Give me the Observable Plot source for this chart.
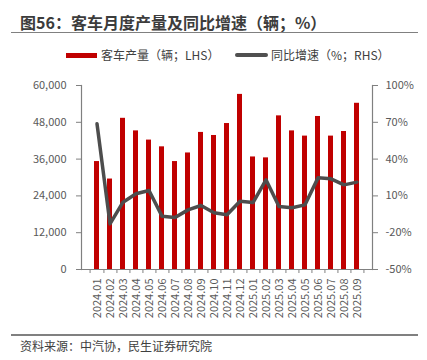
<!DOCTYPE html>
<html>
<head>
<meta charset="utf-8">
<script src="https://cdn.jsdelivr.net/npm/d3@7"></script>
<script src="https://cdn.jsdelivr.net/npm/@observablehq/plot@0.6"></script>
<style>
  html, body { margin: 0; padding: 0; background: #fff; }
  body { width: 427px; height: 360px; position: relative; overflow: hidden;
         font-family: "Noto Sans CJK SC", "Noto Sans", sans-serif; color: #404040; }
  .title { position: absolute; left: 20px; top: 11px; font-size: 16px; line-height: 22px; font-weight: bold; color: #3c3c3c; white-space: nowrap; }
  .rule { position: absolute; left: 11px; width: 407px; height: 1.5px; background: #808080; }
  .leg { position: absolute; font-size: 12px; line-height: 16px; top: 47px; color: #404040; white-space: nowrap; }
  .sw { position: absolute; }
  .caption { position: absolute; left: 20px; top: 337px; font-size: 12px; line-height: 17px; color: #404040; white-space: nowrap; }
  #chart { position: absolute; left: 0; top: 70px; }
</style>
</head>
<body>
<div class="title">图56：客车月度产量及同比增速（辆；%）</div>
<div class="rule" style="top:31.5px"></div>
<div class="sw" style="left:66px; top:52.5px; width:31px; height:5px; background:#C00000"></div>
<div class="leg" style="left:101px">客车产量（辆；LHS）</div>
<div class="sw" style="left:235px; top:53px; width:33px; height:4px; border-radius:2px; background:#505050"></div>
<div class="leg" style="left:271px">同比增速（%；RHS）</div>
<div id="chart"></div>
<div class="rule" style="top:334px"></div>
<div class="caption">资料来源：中汽协，民生证券研究院</div>
<script>
const months = ["2024.01","2024.02","2024.03","2024.04","2024.05","2024.06","2024.07","2024.08","2024.09","2024.10","2024.11","2024.12",
                "2025.01","2025.02","2025.03","2025.04","2025.05","2025.06","2025.07","2025.08","2025.09"];
const output = [35200, 29500, 49300, 45200, 42200, 40000, 35200, 38000, 44700, 43700, 47600, 57100,
                36700, 36400, 50100, 45200, 43500, 49900, 43500, 45000, 54200];
const yoy = [68.8, -12.8, 4.9, 11.7, 14.4, -6.5, -7.6, -1.4, 2.2, -3.8, -5.4, 5.7,
             4.6, 23.1, 1.4, 0.3, 2.7, 24.7, 23.9, 19.0, 21.2];
const leftTicks = [0, 12000, 24000, 36000, 48000, 60000];
const rightTicks = [-50, -20, 10, 40, 70, 100];
const leftDomain = [0, 60000];
const rightDomain = [-50, 100];

const toLeft = v => (v - rightDomain[0]) / (rightDomain[1] - rightDomain[0]) * (leftDomain[1] - leftDomain[0]) + leftDomain[0];
const toRight = v => (v - leftDomain[0]) / (leftDomain[1] - leftDomain[0]) * (rightDomain[1] - rightDomain[0]) + rightDomain[0];

const data = months.map((m, i) => ({month: m, output: output[i], yoy: yoy[i]}));

const W = 427, mL = 81, mR = 55;
const step = (W - mL - mR) / months.length;
const axisColor = "#808080";
const textColor = "#595959";

const chart = Plot.plot({
  width: W,
  height: 262,
  marginTop: 15,
  marginBottom: 63,
  marginLeft: mL,
  marginRight: mR,
  style: {fontFamily: "'Noto Sans CJK SC', 'Noto Sans', sans-serif", fontSize: "11px", color: textColor, background: "transparent"},
  x: {domain: months, paddingInner: 0.6, paddingOuter: 0.3},
  y: {domain: leftDomain},
  marks: [
    Plot.barY(data, {x: "month", y: "output", fill: "#C00000"}),
    Plot.lineY(data, {x: "month", y: d => toLeft(d.yoy), stroke: "#4d4d4d", strokeWidth: 3.5, strokeLinejoin: "round", strokeLinecap: "round"}),
    Plot.ruleY([0], {stroke: axisColor, strokeWidth: 1.2}),
    Plot.frame({anchor: "left", stroke: axisColor, strokeWidth: 1.2}),
    Plot.frame({anchor: "right", stroke: axisColor, strokeWidth: 1.2}),
    Plot.axisY({ticks: leftTicks, tickFormat: d3.format(","), tickSize: 5, tickPadding: 10, stroke: axisColor, fill: textColor, label: null}),
    Plot.axisY({anchor: "right", ticks: rightTicks.map(toLeft), tickFormat: d => Math.round(toRight(d)) + "%", tickSize: 5, tickPadding: 8, stroke: axisColor, fill: textColor, label: null}),
    Plot.axisX({tickRotate: -90, tickSize: 0, tickPadding: 9, fill: textColor, label: null}),
    Plot.axisX({tickFormat: null, tickSize: 4, dx: step / 2, stroke: axisColor, label: null}),
    Plot.axisX({ticks: [months[0]], tickFormat: null, tickSize: 4, dx: -step / 2, stroke: axisColor, label: null})
  ]
});
document.getElementById("chart").appendChild(chart);
</script>
</body>
</html>
